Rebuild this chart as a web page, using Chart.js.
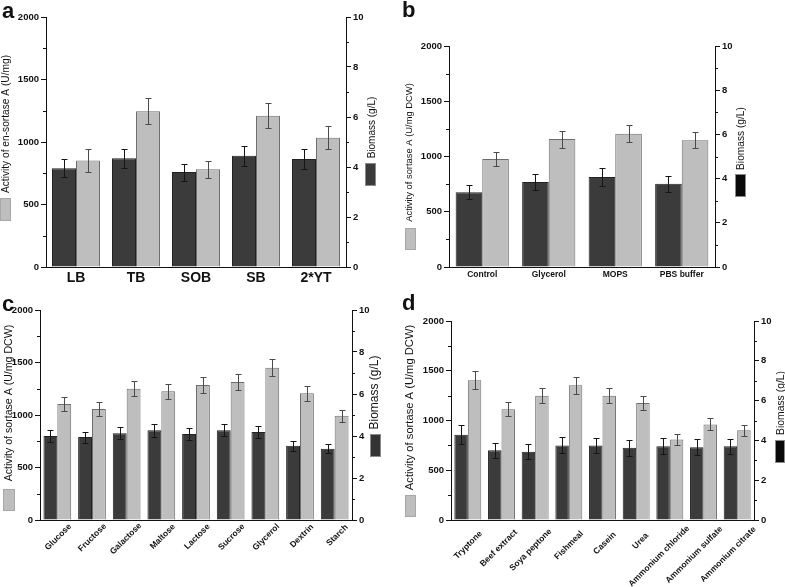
<!DOCTYPE html>
<html>
<head>
<meta charset="utf-8">
<title>Sortase A activity and biomass</title>
<script src="https://cdn.jsdelivr.net/npm/chart.js@4.4.1/dist/chart.umd.min.js"></script>
<style>
    html, body { margin: 0; padding: 0; background: #fff; }
    #wrap { position: relative; width: 785px; height: 587px; overflow: hidden; background: #fff; }
    .panel { position: absolute; }
</style>
</head>
<body>
<div id="wrap">
    <canvas id="panelA" class="panel" width="392" height="293" style="left:0;top:0"></canvas>
    <canvas id="panelB" class="panel" width="393" height="293" style="left:392px;top:0"></canvas>
    <canvas id="panelC" class="panel" width="392" height="294" style="left:0;top:293px"></canvas>
    <canvas id="panelD" class="panel" width="393" height="294" style="left:392px;top:293px"></canvas>
</div>
<script>
// ---- data ----
// grey bars = activity (left axis, U/mg), dark bars = biomass (right axis, g/L)
const mediumLabels = ['LB', 'TB', 'SOB', 'SB', '2*YT'];
const mediumActivity = [853, 1246, 783, 1211, 1035];
const mediumActivityErr = [95, 103, 67, 102, 92];
const mediumBiomass = [3.95, 4.35, 3.80, 4.45, 4.32];
const mediumBiomassErr = [0.36, 0.38, 0.34, 0.40, 0.40];

const additiveLabels = ['Control', 'Glycerol', 'MOPS', 'PBS buffer'];
const additiveActivity = [977, 1158, 1207, 1147];
const additiveActivityErr = [63, 77, 80, 71];
const additiveBiomass = [3.38, 3.85, 4.07, 3.77];
const additiveBiomassErr = [0.32, 0.37, 0.40, 0.36];

const carbonLabels = ['Glucose', 'Fructose', 'Galactose', 'Maltose', 'Lactose', 'Sucrose', 'Glycerol', 'Dextrin', 'Starch'];
const carbonActivity = [1105, 1057, 1251, 1226, 1286, 1315, 1449, 1207, 993];
const carbonActivityErr = [67, 63, 73, 72, 76, 75, 80, 72, 59];
const carbonBiomass = [4.00, 3.95, 4.13, 4.27, 4.09, 4.27, 4.19, 3.53, 3.39];
const carbonBiomassErr = [0.27, 0.26, 0.28, 0.30, 0.27, 0.29, 0.29, 0.25, 0.22];

const nitrogenLabels = ['Tryptone', 'Beef extract', 'Soya peptone', 'Fishmeal', 'Casein', 'Urea', 'Ammonium chloride', 'Ammonium sulfate', 'Ammonium citrate'];
const nitrogenActivity = [1405, 1113, 1250, 1354, 1250, 1176, 810, 961, 901];
const nitrogenActivityErr = [89, 70, 76, 84, 76, 72, 52, 60, 55];
const nitrogenBiomass = [4.28, 3.51, 3.43, 3.75, 3.75, 3.63, 3.71, 3.66, 3.70];
const nitrogenBiomassErr = [0.47, 0.37, 0.37, 0.40, 0.39, 0.39, 0.39, 0.39, 0.39];

const activityTicks = { min: 0, max: 2000, step: 500 };
const biomassTicks = { min: 0, max: 10, step: 2 };

const FONT = "'Liberation Sans', Arial, Helvetica, sans-serif";
const INK = '#111';
const DARK_FILL = '#3b3b3b';
const GREY_FILL = '#bebebe';

// error bars, drawn through each dataset's own y scale
const errorBars = {
    id: 'errorBars',
    afterDatasetsDraw(chart) {
        const ctx = chart.ctx;
        chart.data.datasets.forEach((ds, di) => {
            const meta = chart.getDatasetMeta(di);
            const scale = chart.scales[ds.yAxisID];
            ctx.save();
            ctx.strokeStyle = ds.errorColor;
            ctx.lineWidth = 1;
            meta.data.forEach((bar, i) => {
                const v = ds.data[i];
                const e = ds.errors[i];
                const top = Math.round(scale.getPixelForValue(v + e)) + 0.5;
                const bot = Math.round(scale.getPixelForValue(v - e)) + 0.5;
                const x = Math.round(bar.x) + 0.5;
                ctx.beginPath();
                ctx.moveTo(x, top); ctx.lineTo(x, bot);
                ctx.moveTo(x - 3, top); ctx.lineTo(x + 3, top);
                ctx.moveTo(x - 3, bot); ctx.lineTo(x + 3, bot);
                ctx.stroke();
            });
            ctx.restore();
        });
    }
};

// half-step minor ticks on both value axes
const minorTicks = {
    id: 'minorTicks',
    afterDraw(chart) {
        const ctx = chart.ctx;
        ctx.save();
        ctx.strokeStyle = INK;
        ctx.lineWidth = 1;
        ['y', 'y1'].forEach(id => {
            const s = chart.scales[id];
            const step = s.options.ticks.stepSize;
            for (let v = step / 2; v < s.max; v += step) {
                const py = Math.round(s.getPixelForValue(v)) + 0.5;
                ctx.beginPath();
                if (s.position === 'left') {
                    ctx.moveTo(s.right - 3, py); ctx.lineTo(s.right, py);
                } else {
                    ctx.moveTo(s.left, py); ctx.lineTo(s.left + 3, py);
                }
                ctx.stroke();
            }
        });
        ctx.restore();
    }
};

function verticalText(ctx, text, x, y, size) {
    ctx.save();
    ctx.translate(x, y);
    ctx.rotate(-Math.PI / 2);
    ctx.font = `${size}px ${FONT}`;
    ctx.textAlign = 'center';
    ctx.textBaseline = 'middle';
    ctx.fillText(text, 0, 0);
    ctx.restore();
}

// axis titles with their colour keys, panel letter, category labels
const decor = {
    id: 'decor',
    afterDraw(chart, args, o) {
        const ctx = chart.ctx;
        ctx.save();
        ctx.fillStyle = INK;

        ctx.font = `bold 22px ${FONT}`;
        ctx.textAlign = 'left';
        ctx.textBaseline = 'alphabetic';
        ctx.fillText(o.letter, o.letterPos[0], o.letterPos[1]);

        verticalText(ctx, o.leftTitle, o.leftTitlePos[0], o.leftTitlePos[1], o.leftTitleSize);
        verticalText(ctx, 'Biomass (g/L)', o.rightTitlePos[0], o.rightTitlePos[1], o.rightTitleSize);

        const sw = (r, fill, stroke) => {
            ctx.fillStyle = fill;
            ctx.fillRect(r[0], r[1], r[2], r[3]);
            ctx.strokeStyle = stroke;
            ctx.lineWidth = 1;
            ctx.strokeRect(r[0] + 0.5, r[1] + 0.5, r[2] - 1, r[3] - 1);
        };
        sw(o.leftSwatch, GREY_FILL, '#a8a8a8');
        sw(o.rightSwatch, o.rightSwatchColor, '#8a8a8a');

        const xs = chart.scales.x;
        ctx.fillStyle = INK;
        ctx.font = `bold ${o.xFont}px ${FONT}`;
        chart.data.labels.forEach((lab, i) => {
            const cx = xs.getPixelForTick(i);
            if (!o.rotate) {
                ctx.textAlign = 'center';
                ctx.textBaseline = 'middle';
                ctx.fillText(lab, cx, xs.top + o.xLabelDy);
            } else {
                const len = ctx.measureText(lab).width;
                ctx.save();
                ctx.translate(cx + o.anchorDx, xs.top + o.anchorDy);
                ctx.rotate(-Math.PI / 4);
                ctx.textAlign = 'right';
                ctx.textBaseline = 'middle';
                ctx.fillText(lab, 0.16 * len, 0);
                ctx.restore();
            }
        });
        ctx.restore();
    }
};

function buildChart(canvasId, cfg) {
    const tickFont = { family: FONT, size: 9.5, weight: 'bold' };
    const plain = v => String(v);
    return new Chart(document.getElementById(canvasId), {
        type: 'bar',
        data: {
            labels: cfg.labels,
            datasets: [
                {
                    label: 'Biomass (g/L)',
                    data: cfg.biomass,
                    errors: cfg.biomassErr,
                    yAxisID: 'y1',
                    backgroundColor: DARK_FILL,
                    borderColor: '#222',
                    borderWidth: 1,
                    errorColor: '#151515'
                },
                {
                    label: cfg.leftTitle,
                    data: cfg.activity,
                    errors: cfg.activityErr,
                    yAxisID: 'y',
                    backgroundColor: GREY_FILL,
                    borderColor: '#6e6e6e',
                    borderWidth: 1,
                    errorColor: '#4a4a4a'
                }
            ]
        },
        options: {
            responsive: false,
            devicePixelRatio: 1,
            animation: false,
            categoryPercentage: 0.8,
            barPercentage: 1.0,
            layout: { padding: { top: cfg.box.top, left: 0, right: 0, bottom: 0 } },
            plugins: {
                legend: { display: false },
                tooltip: { enabled: false },
                decor: cfg.decor
            },
            scales: {
                x: {
                    grid: { display: false },
                    border: { display: true, color: INK, width: 1 },
                    ticks: { display: false },
                    afterFit: s => { s.height = cfg.box.bottom; }
                },
                y: {
                    position: 'left',
                    min: activityTicks.min,
                    max: activityTicks.max,
                    ticks: { stepSize: activityTicks.step, font: tickFont, color: INK, padding: 2, callback: plain },
                    grid: { drawOnChartArea: false, tickLength: 5, color: INK },
                    border: { color: INK, width: 1 },
                    afterFit: s => { s.width = cfg.box.left; }
                },
                y1: {
                    position: 'right',
                    min: biomassTicks.min,
                    max: biomassTicks.max,
                    ticks: { stepSize: biomassTicks.step, font: tickFont, color: INK, padding: 2, callback: plain },
                    grid: { drawOnChartArea: false, tickLength: 5, color: INK },
                    border: { color: INK, width: 1 },
                    afterFit: s => { s.width = cfg.box.right; }
                }
            }
        },
        plugins: [errorBars, minorTicks, decor]
    });
}

buildChart('panelA', {
    labels: mediumLabels,
    activity: mediumActivity, activityErr: mediumActivityErr,
    biomass: mediumBiomass, biomassErr: mediumBiomassErr,
    leftTitle: 'Activity of en-sortase A (U/mg)',
    box: { top: 17, left: 46, right: 46, bottom: 26 },
    decor: {
        letter: 'a', letterPos: [2, 18],
        leftTitle: 'Activity of en-sortase A (U/mg)', leftTitlePos: [6, 124], leftTitleSize: 10.2,
        leftSwatch: [0, 198, 11, 23],
        rightTitlePos: [372, 127.5], rightTitleSize: 10,
        rightSwatch: [365, 163, 11, 23], rightSwatchColor: DARK_FILL,
        xFont: 14, rotate: false, xLabelDy: 11
    }
});

buildChart('panelB', {
    labels: additiveLabels,
    activity: additiveActivity, activityErr: additiveActivityErr,
    biomass: additiveBiomass, biomassErr: additiveBiomassErr,
    leftTitle: 'Activity of sortase A (U/mg DCW)',
    box: { top: 46, left: 57, right: 70, bottom: 26 },
    decor: {
        letter: 'b', letterPos: [10, 17],
        leftTitle: 'Activity of sortase A (U/mg DCW)', leftTitlePos: [17, 152.5], leftTitleSize: 9.4,
        leftSwatch: [13, 228, 11, 22],
        rightTitlePos: [349, 138.5], rightTitleSize: 10.2,
        rightSwatch: [343, 174, 11, 23], rightSwatchColor: '#0a0a0a',
        xFont: 8.5, rotate: false, xLabelDy: 8
    }
});

buildChart('panelC', {
    labels: carbonLabels,
    activity: carbonActivity, activityErr: carbonActivityErr,
    biomass: carbonBiomass, biomassErr: carbonBiomassErr,
    leftTitle: 'Activity of sortase A (U/mg DCW)',
    box: { top: 17, left: 40, right: 40, bottom: 67 },
    decor: {
        letter: 'c', letterPos: [2, 18],
        leftTitle: 'Activity of sortase A (U/mg DCW)', leftTitlePos: [9, 110], leftTitleSize: 10.6,
        leftSwatch: [3, 196, 12, 22],
        rightTitlePos: [375, 99.5], rightTitleSize: 12,
        rightSwatch: [370, 141, 11, 23], rightSwatchColor: '#333',
        xFont: 8.5, rotate: true, anchorDx: 9, anchorDy: 9
    }
});

buildChart('panelD', {
    labels: nitrogenLabels,
    activity: nitrogenActivity, activityErr: nitrogenActivityErr,
    biomass: nitrogenBiomass, biomassErr: nitrogenBiomassErr,
    leftTitle: 'Activity of sortase A (U/mg DCW)',
    box: { top: 28, left: 59, right: 31, bottom: 67 },
    decor: {
        letter: 'd', letterPos: [10, 17],
        leftTitle: 'Activity of sortase A (U/mg DCW)', leftTitlePos: [18, 114.5], leftTitleSize: 11.2,
        leftSwatch: [13, 202, 11, 22],
        rightTitlePos: [389, 110], rightTitleSize: 10.4,
        rightSwatch: [383, 147, 10, 23], rightSwatchColor: '#0a0a0a',
        xFont: 8.5, rotate: true, anchorDx: 9, anchorDy: 16.5
    }
});
</script>
</body>
</html>
